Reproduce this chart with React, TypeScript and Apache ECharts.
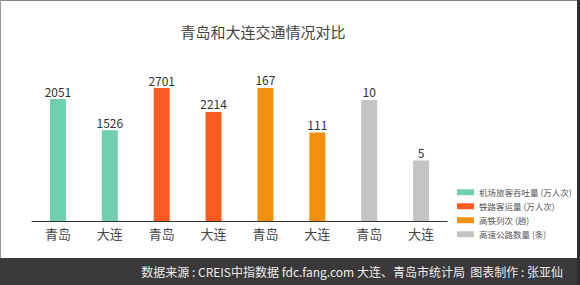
import React, { useEffect, useRef } from "react";
import * as echarts from "echarts";

const title = "青岛和大连交通情况对比";
const footer = "数据来源 : CREIS中指数据 fdc.fang.com 大连、青岛市统计局  图表制作 : 张亚仙";
const cities = ["青岛", "大连"];
const seriesNames = [
  "机场旅客吞吐量 (万人次)",
  "铁路客运量 (万人次)",
  "高铁列次 (趟)",
  "高速公路数量 (条)",
];
const airportValues = [2051, 1526];
const railValues = [2701, 2214];
const hsrValues = [167, 111];
const highwayValues = [10, 5];
const colors = ["#6fcfb0", "#fd5a22", "#f0900c", "#c4c4c4"];
const axisMax = [2707, 3270, 202, 13.3];

const FONT = '"Noto Sans CJK SC", "Noto Sans", sans-serif';

export default function App() {
  const ref = useRef<HTMLDivElement>(null);
  useEffect(() => {
    if (!ref.current) return;
    const chart = echarts.init(ref.current, undefined, { renderer: "svg" });
    const groups = [airportValues, railValues, hsrValues, highwayValues];
    const categories: string[] = [];
    groups.forEach(() => cities.forEach((c) => categories.push(c)));
    const series = groups.map((vals, gi) => {
      const data: (number | null)[] = categories.map(() => null);
      vals.forEach((v, ci) => {
        data[gi * cities.length + ci] = v;
      });
      return {
        name: seriesNames[gi],
        type: "bar",
        yAxisIndex: gi,
        data,
        barWidth: 16,
        barGap: "-100%",
        itemStyle: { color: colors[gi] },
        label: {
          show: true,
          position: "top",
          distance: 2,
          color: "#333",
          fontSize: 12,
          fontFamily: FONT,
        },
      };
    });
    chart.setOption({
      animation: false,
      backgroundColor: "#ffffff",
      textStyle: { fontFamily: FONT },
      title: {
        text: title,
        left: 258,
        top: 19,
        textAlign: "center",
        textStyle: { fontSize: 15, fontWeight: "normal", color: "#444", fontFamily: FONT },
      },
      legend: {
        orient: "vertical",
        left: 452,
        top: 183,
        itemWidth: 17,
        itemHeight: 6,
        itemGap: 5.5,
        icon: "rect",
        textStyle: { fontSize: 8.5, color: "#555", fontFamily: FONT },
        data: seriesNames,
      },
      grid: { left: 32, width: 415, top: 60, bottom: 64 },
      xAxis: {
        type: "category",
        data: categories,
        axisLine: { lineStyle: { color: "#333", width: 1 } },
        axisTick: { show: false },
        axisLabel: { color: "#444", fontSize: 13, margin: 6, fontFamily: FONT },
      },
      yAxis: axisMax.map((m) => ({
        type: "value",
        min: 0,
        max: m,
        show: false,
        splitLine: { show: false },
      })),
      series,
      graphic: [
        { type: "rect", shape: { x: 0, y: 258, width: 580, height: 27 }, style: { fill: "#3a3838" }, silent: true },
        { type: "rect", shape: { x: 0, y: 0, width: 580, height: 1 }, style: { fill: "#8a8a8a" }, silent: true },
        { type: "rect", shape: { x: 0, y: 0, width: 1, height: 258 }, style: { fill: "#9a9a9a" }, silent: true },
        { type: "rect", shape: { x: 577, y: 0, width: 3, height: 285 }, style: { fill: "#2e2e2e" }, silent: true },
        {
          type: "text",
          x: 563,
          y: 271,
          style: {
            text: footer,
            fill: "#eeeeee",
            fontSize: 12,
            fontFamily: FONT,
            textAlign: "right",
            textVerticalAlign: "middle",
          },
          silent: true,
        },
      ],
    });
    return () => chart.dispose();
  }, []);
  return (
    <div
      ref={ref}
      style={{ position: "fixed", left: 0, top: 0, width: 580, height: 285 }}
    />
  );
}
